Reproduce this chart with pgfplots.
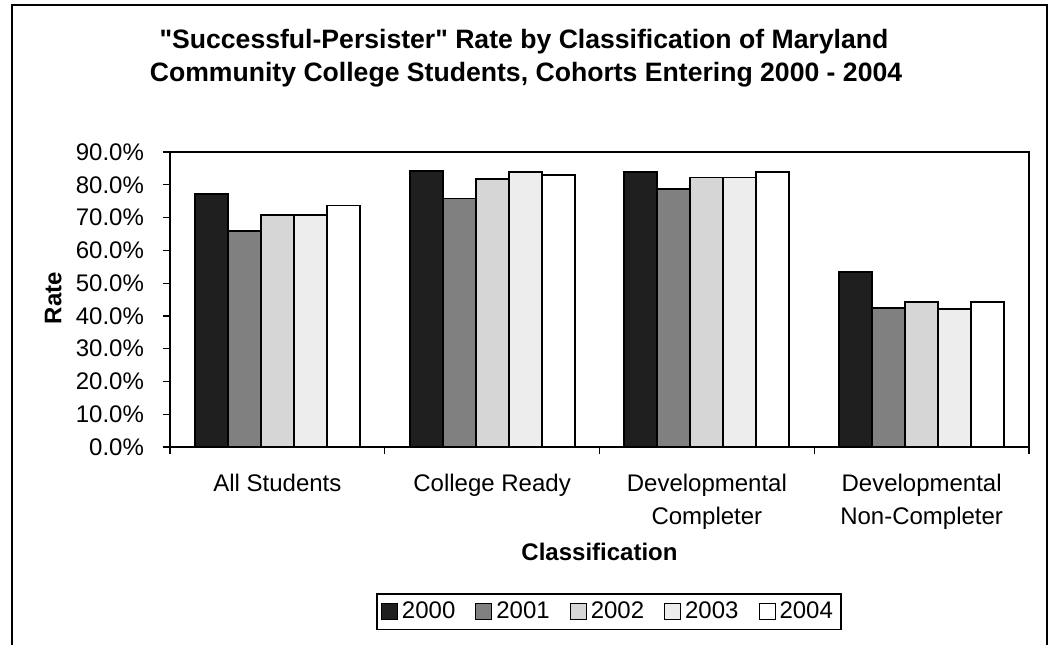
\documentclass[border=0pt]{standalone}
\usepackage{fontspec}
\setmainfont{Liberation Sans}[Ligatures=TeXOff]
\usepackage{pgfplots}
\usepackage{pgfplotstable}
\pgfplotsset{compat=1.18}
\pgfplotstableread{
cat y2000 y2001 y2002 y2003 y2004
0 77.3 65.8 70.9 70.9 73.7
1 84.2 75.8 81.7 84.0 83.0
2 84.0 78.6 82.2 82.2 83.8
3 53.4 42.5 44.2 42.0 44.2
}\datatable
\definecolor{c2000}{gray}{0.12}
\definecolor{c2001}{gray}{0.50}
\definecolor{c2002}{gray}{0.84}
\definecolor{c2003}{gray}{0.93}
\definecolor{c2004}{gray}{1.0}
\begin{document}
\begin{tikzpicture}
\useasboundingbox (0,0) rectangle (525.5pt,322.5pt);
\draw[line width=0.6pt] (6pt,0) -- (6pt,320pt) -- (523.5pt,320pt) -- (523.5pt,0);
\node[anchor=base,font=\fontsize{13.3}{16}\bfseries\selectfont] at (262pt,298.5pt) {"Successful-Persister" Rate by Classification of Maryland};
\node[anchor=base,font=\fontsize{13.3}{16}\bfseries\selectfont] at (263pt,282pt) {Community College Students, Cohorts Entering 2000 - 2004};
\begin{axis}[
  at={(85pt,99pt)}, anchor=south west,
  scale only axis, width=429.5pt, height=147.5pt,
  ymin=0, ymax=90, xmin=-0.5, xmax=3.5,
  ybar=0pt, bar width=16.5pt,
  axis line style={line width=0.6pt},
  tick align=outside, major tick length=3.5pt,
  tick style={black, line width=0.6pt},
  xtick pos=left, ytick pos=left,
  ytick={0,10,...,90},
  yticklabel={\pgfmathprintnumber[fixed,fixed zerofill,precision=1,assume math mode=true]{\tick}\%},
  /pgf/number format/assume math mode=true,
  xtick={-0.5,0.5,1.5,2.5,3.5},
  xticklabels={},
  extra x ticks={0,1,2,3},
  extra x tick labels={All Students, College Ready, Developmental\\Completer, Developmental\\Non-Completer},
  extra x tick style={major tick length=0pt, xticklabel style={align=center, yshift=-10pt, font=\fontsize{12}{16.5}\selectfont}},
  tick label style={font=\fontsize{12}{16.5}\selectfont},
  yticklabel style={xshift=-6pt},
  xlabel={Classification},
  ylabel={Rate},
  xlabel style={font=\fontsize{12}{14}\bfseries\selectfont, at={(axis description cs:0.5,-0.356)}, anchor=center},
  ylabel style={font=\fontsize{12}{14}\bfseries\selectfont, at={(axis description cs:-0.136,0.505)}, anchor=center, rotate=0},
  legend columns=5,
  legend style={at={(axis description cs:0.511,-0.559)}, anchor=center, draw=black, line width=0.6pt,
    font=\fontsize{12}{14}\selectfont, inner xsep=2pt, inner ysep=2pt,
    /tikz/every even column/.append style={column sep=8pt}},
  legend image code/.code={\draw[#1, line width=0.5pt] (0pt,-4pt) rectangle (8pt,4pt);},
  every axis plot/.append style={draw=black, line width=0.9pt},
]
\addplot[fill=c2000] table[x=cat,y=y2000] {\datatable};
\addplot[fill=c2001] table[x=cat,y=y2001] {\datatable};
\addplot[fill=c2002] table[x=cat,y=y2002] {\datatable};
\addplot[fill=c2003] table[x=cat,y=y2003] {\datatable};
\addplot[fill=c2004] table[x=cat,y=y2004] {\datatable};
\legend{2000,2001,2002,2003,2004}
\end{axis}
\end{tikzpicture}
\end{document}
